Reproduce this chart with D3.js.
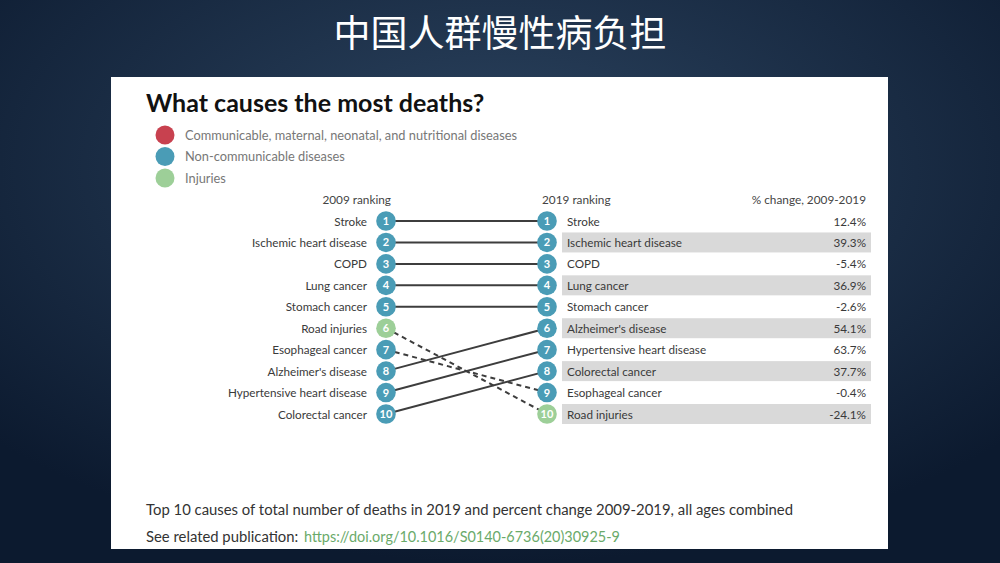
<!DOCTYPE html>
<html><head><meta charset="utf-8">
<script src="https://cdn.jsdelivr.net/npm/d3@7"></script>
<style>html,body{margin:0;padding:0;width:1000px;height:563px;overflow:hidden;background:#0f1d33}</style>
</head><body><svg id="c" width="1000" height="563"></svg>
<script>
const slideTitle = "中国人群慢性病负担";
const chartTitle = "What causes the most deaths?";
const legendLabels = ["Communicable, maternal, neonatal, and nutritional diseases","Non-communicable diseases","Injuries"];
const legendKeys = ["cmnn","ncd","inj"];
const causes2009 = ["Stroke","Ischemic heart disease","COPD","Lung cancer","Stomach cancer","Road injuries","Esophageal cancer","Alzheimer's disease","Hypertensive heart disease","Colorectal cancer"];
const causes2019 = ["Stroke","Ischemic heart disease","COPD","Lung cancer","Stomach cancer","Alzheimer's disease","Hypertensive heart disease","Colorectal cancer","Esophageal cancer","Road injuries"];
const pctChange = [12.4,39.3,-5.4,36.9,-2.6,54.1,63.7,37.7,-0.4,-24.1];
const injuryCauses = ["Road injuries"];
const footnote = "Top 10 causes of total number of deaths in 2019 and percent change 2009-2019, all ages combined";
const pubLabel = "See related publication: ";
const pubLink = "https://doi.org/10.1016/S0140-6736(20)30925-9";

const svg = d3.select("#c");
const defs = svg.append("defs");
const rg = defs.append("radialGradient").attr("id","bg").attr("cx","50%").attr("cy","30%").attr("r","70%");
rg.append("stop").attr("offset","0%").attr("stop-color","#2c4460");
rg.append("stop").attr("offset","100%").attr("stop-color","#0c1a2f");
svg.append("rect").attr("width",1000).attr("height",563).attr("fill","url(#bg)");

svg.append("text").attr("x",500).attr("y",47).attr("text-anchor","middle")
  .attr("font-family","Noto Sans CJK SC").attr("font-size",37).attr("fill","#ffffff").text(slideTitle);

svg.append("rect").attr("x",111).attr("y",77).attr("width",777).attr("height",472).attr("fill","#ffffff");

const F = "Lato, 'Open Sans', sans-serif";
svg.append("text").attr("x",146).attr("y",112).attr("font-family",F).attr("font-weight",700)
  .attr("font-size",25).attr("fill","#111").text(chartTitle);

const color = d3.scaleOrdinal().domain(legendKeys).range(["#c8414f","#4a9cb6","#9dcf98"]);
const legY = d3.scalePoint().domain(legendKeys).range([135,178]);
const lg = svg.append("g").selectAll("g").data(legendKeys).join("g");
lg.append("circle").attr("cx",165).attr("cy",d=>legY(d)).attr("r",9.5).attr("fill",d=>color(d));
lg.append("text").attr("x",185).attr("y",d=>legY(d)+4.5).attr("font-family",F).attr("font-size",12.8)
  .attr("fill","#777").text((d,i)=>legendLabels[i]);

const y = d3.scaleLinear().domain([1,10]).range([221,414]);
const xL = 386, xR = 547;
const cat = c => injuryCauses.includes(c) ? "inj" : "ncd";

// headers
const hdr = svg.append("g").attr("font-family",F).attr("font-size",11.8).attr("fill","#444");
hdr.append("text").attr("x",391).attr("y",204).attr("text-anchor","end").text("2009 ranking");
hdr.append("text").attr("x",542).attr("y",204).text("2019 ranking");
hdr.append("text").attr("x",866).attr("y",204).attr("text-anchor","end").text("% change, 2009-2019");

// bands
const rows = d3.range(10);
svg.append("g").selectAll("rect").data(rows.filter(i=>i%2===1)).join("rect")
  .attr("x",562).attr("width",309).attr("y",i=>y(i+1)-10).attr("height",20).attr("fill","#d9d9d9");

// lines
svg.append("g").selectAll("line").data(causes2009).join("line")
  .attr("x1",xL).attr("y1",(c,i)=>y(i+1))
  .attr("x2",xR).attr("y2",c=>y(causes2019.indexOf(c)+1))
  .attr("stroke","#3d3d3d").attr("stroke-width",2)
  .attr("stroke-dasharray",(c,i)=> causes2019.indexOf(c) > i ? "5,4" : null);

// circles
function circles(list, x){
  const g = svg.append("g").selectAll("g").data(list).join("g");
  g.append("circle").attr("cx",x).attr("cy",(c,i)=>y(i+1)).attr("r",9.8).attr("fill",c=>color(cat(c)));
  g.append("text").attr("x",x).attr("y",(c,i)=>y(i+1)+4).attr("text-anchor","middle")
    .attr("font-family",F).attr("font-weight",700).attr("font-size",11).attr("fill","#fff").text((c,i)=>i+1);
}
circles(causes2009, xL);
circles(causes2019, xR);

// labels
const lab = {"font-family":F,"font-size":11.7,"fill":"#3a3a3a"};
function styl(sel){ Object.entries(lab).forEach(([k,v])=>sel.attr(k,v)); return sel; }
styl(svg.append("g").selectAll("text").data(causes2009).join("text")
  .attr("x",367).attr("y",(c,i)=>y(i+1)+4.5).attr("text-anchor","end").text(c=>c));
styl(svg.append("g").selectAll("text").data(causes2019).join("text")
  .attr("x",567).attr("y",(c,i)=>y(i+1)+4.5).text(c=>c));
styl(svg.append("g").selectAll("text").data(pctChange).join("text")
  .attr("x",866).attr("y",(v,i)=>y(i+1)+4.5).attr("text-anchor","end").text(v=>v.toFixed(1)+"%"));

// footer
svg.append("text").attr("x",146).attr("y",515).attr("font-family",F).attr("font-size",15.5)
  .attr("textLength",647).attr("lengthAdjust","spacingAndGlyphs").attr("fill","#333").text(footnote);
const ft = svg.append("text").attr("x",146).attr("y",542).attr("font-family",F).attr("font-size",15.5).attr("fill","#333");
ft.append("tspan").attr("textLength",156).attr("lengthAdjust","spacingAndGlyphs").text(pubLabel);
ft.append("tspan").attr("x",304).attr("textLength",316).attr("lengthAdjust","spacingAndGlyphs").attr("fill","#6aaa6a").text(pubLink);
</script></body></html>
